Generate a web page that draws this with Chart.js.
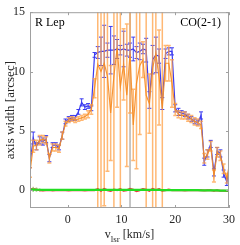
<!DOCTYPE html>
<html>
<head>
<meta charset="utf-8">
<script src="https://cdn.jsdelivr.net/npm/chart.js@4.4.1/dist/chart.umd.min.js"></script>
<style>
  html, body { margin: 0; padding: 0; background: #fff; }
</style>
</head>
<body>
<canvas id="myChart" width="240" height="245"></canvas>
<script>
// channel velocities [km/s]
const vel = [
  -7.0, -6.4, -5.8, -5.2, -4.6, -4.0, -3.4, -2.8, -2.2, -1.6,
  -1.0, -0.4, 0.2, 0.8, 1.4, 2.0, 2.6, 3.2, 3.8, 4.4,
  5.0, 5.6, 6.2, 6.8, 7.4, 8.0, 8.6, 9.2, 9.8, 10.4,
  11.0, 11.6, 12.2, 12.8, 13.4, 14.0, 14.6, 15.2, 15.8, 16.4,
  17.0, 17.6, 18.2, 18.8, 19.4, 20.0, 20.6, 21.2, 21.8, 22.4,
  23.0, 23.6, 24.2, 24.8, 25.4, 26.0, 26.6, 27.2, 27.8, 28.4,
  29.0, 29.6, 30.2
];

// major axis (blue)
const majorAxis = [
  2.2, 4.4, 3.7, 4.2, 4.1, 4.3, 2.7, 3.8, 3.8, 3.6,
  4.6, 5.8, 6.0, 6.1, 6.1, 6.6, 7.4, 7.0, 7.1, 6.9,
  11.4, 11.6, 11.7, 11.7, 11.8, 11.8, 11.8, 11.9, 11.8, 11.9,
  11.8, 11.8, 11.9, 11.6, 11.7, 11.9, 11.8, 7.6, 11.0, 11.4,
  11.3, 7.3, 11.5, 11.7, 11.7, 6.9, 6.6, 6.5, 6.4, 6.2,
  6.0, 5.8, 5.7, 6.3, 2.4, 3.1, 3.9, 1.5, 3.3, 3.1,
  1.4, 0.7, 2.4
];
const majorErr = [
  0.3, 0.5, 0.3, 0.3, 0.3, 0.3, 0.3, 0.2, 0.2, 0.2,
  0.3, 0.2, 0.2, 0.2, 0.2, 0.2, 0.3, 0.2, 0.2, 0.2,
  0.2, 0.5, 1.2, 2.2, 0.6, 2.0, 1.2, 0.8, 0.4, 1.5,
  0.5, 0.6, 1.0, 0.5, 0.7, 0.4, 1.0, 0.7, 1.2, 1.5,
  0.6, 0.5, 0.4, 0.3, 0.3, 0.3, 0.3, 0.2, 0.2, 0.2,
  0.2, 0.2, 0.2, 0.3, 0.3, 0.3, 0.3, 0.3, 0.3, 0.3,
  0.3, 0.3, 0.3
];

// minor axis (orange)
const minorAxis = [
  1.5, 3.7, 3.8, 4.2, 4.3, 4.2, 2.7, 3.6, 3.6, 3.5,
  4.6, 5.6, 5.9, 6.0, 5.9, 6.0, 6.1, 6.2, 6.4, 6.8,
  8.6, 10.6, 10.0, 10.7, 9.6, 6.5, 9.6, 12.0, 8.7, 10.6,
  8.0, 11.5, 5.5, 9.0, 10.5, 11.0, 8.0, 7.3, 10.3, 11.5,
  9.5, 6.9, 10.7, 10.7, 9.0, 6.8, 6.4, 6.3, 6.3, 6.1,
  6.0, 5.8, 5.7, 5.5, 2.7, 3.0, 3.7, 1.2, 3.2, 2.9,
  1.8, 1.0, 2.5
];
const minorErr = [
  0.4, 0.5, 0.4, 0.4, 0.3, 0.3, 0.4, 0.3, 0.3, 0.3,
  0.3, 0.2, 0.2, 0.2, 0.2, 0.2, 0.2, 0.2, 0.3, 0.4,
  0.8, 14, 13, 12, 8, 4, 12, 5, 12, 3,
  6, 5, 3, 7.2, 5.8, 1.5, 12, 2.5, 12, 13,
  4, 10, 1.5, 1.5, 2, 0.5, 0.3, 0.3, 0.3, 0.3,
  0.3, 0.3, 0.3, 0.3, 0.4, 0.4, 0.4, 0.5, 0.4, 0.4,
  0.4, 0.4, 0.4
];

// position angle-ish offsets near zero (red, green)
const redVals = [
  0.08, 0.1, 0.05, 0.0, -0.03, 0.0, 0.02, -0.02, 0.0, 0.0,
  0.02, 0.0, -0.02, 0.0, 0.02, 0.0, 0.0, -0.02, 0.0, 0.02,
  0.0, 0.1, -0.05, 0.12, 0.0, -0.06, 0.05, 0.0, 0.1, -0.05,
  0.0, 0.12, 0.05, -0.08, 0.0, 0.1, 0.05, -0.05, 0.12, 0.0,
  0.1, -0.04, 0.0, 0.05, 0.0, 0.02, 0.0, 0.0, -0.02, 0.0,
  0.02, 0.0, 0.0, 0.0, -0.02, 0.0, 0.0, -0.05, 0.0, -0.04,
  -0.05, -0.06, -0.05
];
const redErr = [
  0.2, 0.2, 0.15, 0.1, 0.05, 0.05, 0.05, 0.05, 0.05, 0.05,
  0.05, 0.05, 0.05, 0.05, 0.05, 0.05, 0.05, 0.05, 0.05, 0.05,
  0.05, 0.05, 0.05, 0.05, 0.05, 0.05, 0.05, 0.05, 0.05, 0.05,
  0.05, 0.05, 0.05, 0.05, 0.05, 0.05, 0.05, 0.05, 0.05, 0.05,
  0.05, 0.05, 0.05, 0.05, 0.05, 0.05, 0.05, 0.05, 0.05, 0.05,
  0.05, 0.05, 0.05, 0.05, 0.05, 0.05, 0.05, 0.05, 0.05, 0.05,
  0.05, 0.05, 0.05
];
const greenVals = [
  0.06, 0.05, 0.04, 0.04, 0.03, 0.02, 0.02, 0.02, 0.02, 0.02,
  0.02, 0.02, 0.02, 0.02, 0.02, 0.02, 0.02, 0.02, 0.02, 0.02,
  0.03, 0.03, 0.02, 0.03, 0.02, 0.03, 0.02, 0.03, 0.02, 0.03,
  0.02, 0.03, 0.02, 0.02, 0.03, 0.02, 0.02, 0.02, 0.02, 0.02,
  0.02, 0.01, 0.01, 0.01, 0.01, 0.0, 0.0, 0.0, 0.0, 0.0,
  0.0, 0.0, 0.0, -0.01, -0.01, -0.01, -0.02, -0.02, -0.02, -0.03,
  -0.03, -0.03, -0.04
];
const greenErr = [
  0.2, 0.2, 0.18, 0.12, 0.05, 0.03, 0.03, 0.03, 0.03, 0.03,
  0.03, 0.03, 0.03, 0.03, 0.03, 0.03, 0.03, 0.03, 0.03, 0.03,
  0.03, 0.03, 0.03, 0.03, 0.03, 0.03, 0.03, 0.03, 0.03, 0.03,
  0.03, 0.03, 0.03, 0.03, 0.03, 0.03, 0.03, 0.03, 0.03, 0.03,
  0.03, 0.03, 0.03, 0.03, 0.03, 0.03, 0.03, 0.03, 0.03, 0.03,
  0.03, 0.03, 0.03, 0.03, 0.03, 0.03, 0.03, 0.03, 0.03, 0.03,
  0.03, 0.03, 0.03
];

const xTicks = [0, 10, 20, 30];
const yTicks = [0, 5, 10, 15];
const vSys = [11.6];

const SERIF = '"Liberation Serif", "Times New Roman", serif';
const AXIS_GRAY = '#a0a0a0';
const TEXT_COL = '#262626';

function toPoints(ys) {
  return vel.map((v, i) => ({ x: v, y: ys[i] }));
}

// ------------------------------------------------------------------
// error bars, drawn just under each dataset's own line
const errorBars = {
  id: 'errorBars',
  beforeDatasetDraw(chart, args) {
    const ds = chart.data.datasets[args.index];
    if (!ds.errors) return;
    const { ctx, chartArea: area, scales: { x, y } } = chart;
    ctx.save();
    ctx.beginPath();
    ctx.rect(area.left, area.top, area.right - area.left, area.bottom - area.top);
    ctx.clip();
    ctx.strokeStyle = ds.errorColor;
    ctx.lineWidth = ds.errorWidth;
    const cap = ds.capHalf;
    ds.data.forEach((p, i) => {
      const e = ds.errors[i];
      const px = x.getPixelForValue(p.x);
      const top = y.getPixelForValue(p.y + e);
      const bot = y.getPixelForValue(p.y - e);
      ctx.beginPath();
      ctx.moveTo(px, top);
      ctx.lineTo(px, bot);
      if (cap > 0) {
        ctx.moveTo(px - cap, top);
        ctx.lineTo(px + cap, top);
        ctx.moveTo(px - cap, bot);
        ctx.lineTo(px + cap, bot);
      }
      ctx.stroke();
    });
    ctx.restore();
  }
};

// box, inward ticks, systemic velocity line, titles
const frame = {
  id: 'frame',
  beforeDatasetsDraw(chart) {
    const { ctx, chartArea: area, scales: { x } } = chart;
    ctx.save();
    ctx.strokeStyle = '#b4b4b4';
    ctx.lineWidth = 1.5;
    vSys.forEach(v => {
      const px = x.getPixelForValue(v);
      ctx.beginPath();
      ctx.moveTo(px, area.top);
      ctx.lineTo(px, area.bottom);
      ctx.stroke();
    });
    ctx.restore();
  },
  afterDraw(chart) {
    const { ctx, chartArea: area, scales: { x, y } } = chart;
    ctx.save();
    ctx.strokeStyle = AXIS_GRAY;
    ctx.lineWidth = 1;
    ctx.strokeRect(area.left + 0.5, area.top + 0.5, area.right - area.left - 1, area.bottom - area.top - 1);
    ctx.beginPath();
    xTicks.forEach(v => {
      const px = Math.round(x.getPixelForValue(v)) + 0.5;
      ctx.moveTo(px, area.bottom);
      ctx.lineTo(px, area.bottom - 3);
      ctx.moveTo(px, area.top);
      ctx.lineTo(px, area.top + 3);
    });
    yTicks.forEach(v => {
      const py = Math.round(y.getPixelForValue(v)) + 0.5;
      ctx.moveTo(area.left, py);
      ctx.lineTo(area.left + 3, py);
      ctx.moveTo(area.right, py);
      ctx.lineTo(area.right - 3, py);
    });
    ctx.stroke();

    ctx.fillStyle = '#000';
    ctx.font = '12px ' + SERIF;
    ctx.textBaseline = 'alphabetic';
    ctx.textAlign = 'left';
    ctx.fillText('R Lep', area.left + 5, area.top + 14);
    ctx.textAlign = 'right';
    ctx.fillText('CO(2-1)', area.right - 8, area.top + 14);

    // x label with subscript
    ctx.fillStyle = TEXT_COL;
    const cx = (area.left + area.right) / 2;
    const base = 238;
    ctx.font = '12px ' + SERIF;
    const wV = ctx.measureText('v').width;
    const wR = ctx.measureText(' [km/s]').width;
    ctx.font = '9px ' + SERIF;
    const wS = ctx.measureText('lsr').width;
    let sx = cx - (wV + wS + wR) / 2;
    ctx.textAlign = 'left';
    ctx.font = '12px ' + SERIF;
    ctx.fillText('v', sx, base);
    ctx.font = '9px ' + SERIF;
    ctx.fillText('lsr', sx + wV, base + 4);
    ctx.font = '12px ' + SERIF;
    ctx.fillText(' [km/s]', sx + wV + wS, base);

    // y label
    ctx.translate(11, (area.top + area.bottom) / 2);
    ctx.rotate(-Math.PI / 2);
    ctx.textAlign = 'center';
    ctx.textBaseline = 'middle';
    ctx.font = '13px ' + SERIF;
    ctx.fillText('axis width [arcsec]', 0, 0);
    ctx.restore();
  }
};

const ctx = document.getElementById('myChart');

const config = {
  type: 'line',
  data: {
    datasets: [
      {
        data: toPoints(majorAxis),
        errors: majorErr,
        errorColor: '#3b3bf0',
        errorWidth: 1,
        capHalf: 2,
        borderColor: '#3b3bf0',
        borderWidth: 1.2,
        order: 4,
      },
      {
        data: toPoints(minorAxis),
        errors: minorErr,
        errorColor: 'rgba(255,160,70,0.75)',
        errorWidth: 1.5,
        capHalf: 2,
        borderColor: 'rgba(245,140,35,0.9)',
        borderWidth: 1.2,
        order: 3,
      },
      {
        data: toPoints(redVals),
        errors: redErr,
        errorColor: 'rgba(240,90,90,0.6)',
        errorWidth: 1.5,
        capHalf: 0,
        borderColor: '#e83a3a',
        borderWidth: 2,
        order: 2,
      },
      {
        data: toPoints(greenVals),
        errors: greenErr,
        errorColor: 'rgba(120,225,120,0.7)',
        errorWidth: 1.5,
        capHalf: 0,
        borderColor: '#22dd22',
        borderWidth: 2.2,
        order: 1,
      },
    ],
  },
  options: {
    responsive: false,
    devicePixelRatio: 1,
    animation: false,
    parsing: false,
    elements: {
      point: { radius: 0 },
      line: { tension: 0 },
    },
    layout: { padding: { top: 5, right: 6, left: 0, bottom: 0 } },
    plugins: {
      legend: { display: false },
      tooltip: { enabled: false },
    },
    scales: {
      x: {
        type: 'linear',
        min: -7,
        max: 30,
        grid: { display: false, drawTicks: false },
        border: { display: false },
        afterBuildTicks: scale => { scale.ticks = xTicks.map(v => ({ value: v })); },
        afterFit: scale => { scale.height = 37; },
        ticks: {
          padding: 5,
          color: TEXT_COL,
          font: { family: SERIF, size: 12 },
          maxRotation: 0,
        },
      },
      y: {
        type: 'linear',
        min: -1.5,
        max: 15,
        grid: { display: false, drawTicks: false },
        border: { display: false },
        afterBuildTicks: scale => { scale.ticks = yTicks.map(v => ({ value: v })); },
        afterFit: scale => { scale.width = 30; },
        ticks: {
          padding: 5,
          color: TEXT_COL,
          font: { family: SERIF, size: 12 },
        },
      },
    },
  },
  plugins: [errorBars, frame],
};

const myChart = new Chart(ctx, config);
</script>
</body>
</html>
